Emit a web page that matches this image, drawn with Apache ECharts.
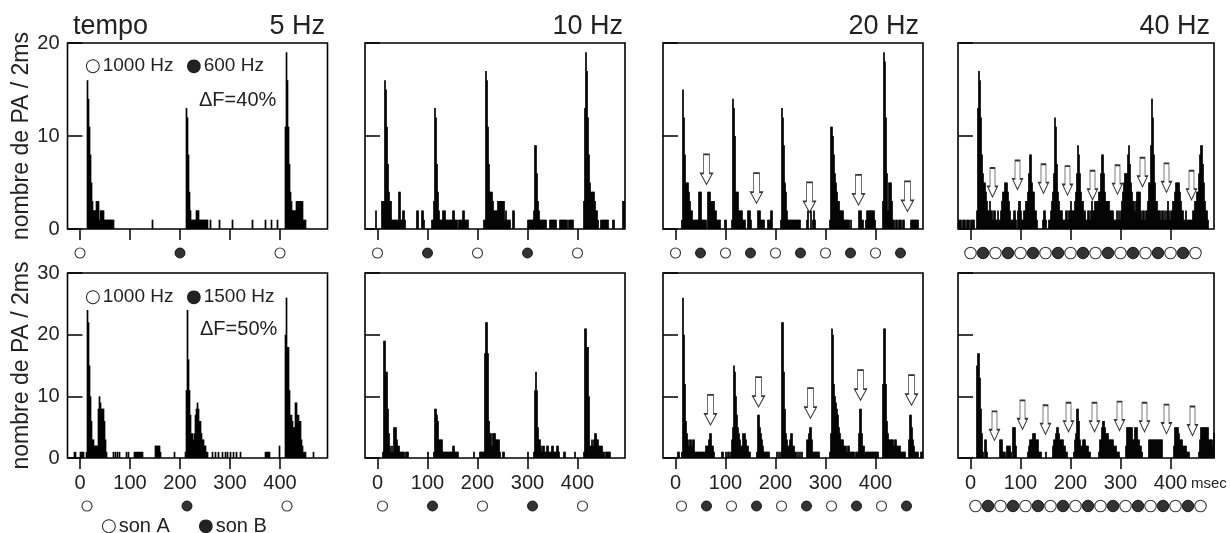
<!DOCTYPE html>
<html>
<head>
<meta charset="utf-8">
<script src="https://cdn.jsdelivr.net/npm/echarts@6.0.0/dist/echarts.min.js"></script>
<style>
html,body{margin:0;padding:0;background:#fff;}
#chart{width:1231px;height:533px;}
</style>
</head>
<body>
<div id="chart"></div>
<script>
// ---------- DATA ----------
// Histogram segments: [start of first 2-ms bin (ms), counts of consecutive 2-ms bins]
const hist_r1p1 = [
  [14, [16,14,11,8,5,3,2,2,2,3,3,3,1,2,2,2,2,1,1,1,1,1,1,1,1,1,1]],
  [144, [1]],
  [212, [13,12,8,4,2,1,1,1,1,1,2,2,2,1,1,1,1,1,1,1,1,1]],
  [260, [1]], [278, [1]], [304, [1]], [344, [1]], [370, [1]], [382, [1]], [394, [1]],
  [410, [11,19,16,11,7,4,3,2,2,2,2,3,3,3,3,3,3,3,1,1,1]]
];
const hist_r1p2 = [
  [-4, [2]],
  [8, [3,3,3,16,15,11,7,4,3,3,1,1,1,1,1,1,1,4,4,1,1,2,2,1]],
  [78, [2,2]], [88, [2,2,1]],
  [108, [1,1,3,13,12,7,4,2,1,1,1,2,2,2,1,1,1,1,1,1,1,2,2,1,1,1,0,1,1,1,1,2,2,1,1,1,1]],
  [212, [1,1,17,16,11,7,4,4,4,3,2,2,2,2,3,3,3,3,3,3,3,1,2,1,1,1,1,0,0,2,2]],
  [300, [1,1,1,1,1,1,2,9,9,6,3,2,1,1,1,1,1,1,1,0,0,0,1,1,1,1,1,1,1,0,0,0,1,1,1,1,1,1,1,1,0,1,1,1,1,1]],
  [412, [3,13,19,17,12,8,5,4,4,4,4,3,2,2,1,0,0,1,1,1,1,1,1,1,1,0,0,0,0,1,1]],
  [490, [3,3]]
];
const hist_r1p3 = [
  [12, [1,15,12,8,5,5,5,4,3,2,2,1,1,1,1,1,1,4,4,4,1,1,1,1,1,0,4,4,4,3,3,3,3,2,2,1,1,1,1]],
  [98, [1,1]],
  [112, [1,14,13,10,4,4,4,2,2,2,2,1,1,1,0,0,2,2,2,1]],
  [164, [2,2,2,1,1,1,1,0,0,0,1,1,1,2,2]],
  [210, [1,13,12,9,5,4,2,1,1,1,1,1,1,1,1,1,1,1,1,1]],
  [262, [1,2,0,0,2,0,1,2,1]],
  [308, [1,11,11,10,8,6,5,4,3,3,2,2,2,2,1,1,1,1,1,1,0,1]],
  [366, [2,2,2,1,1,0,0,1,2,2,2,2,2,2,2,2,1]],
  [414, [3,19,18,12,6,2,5,5,5,3,1,1,0,1,1,0,1,1,1,0,1,1]],
  [470, [1,1,1,1,1,1,1,1]]
];
const hist_r1p4 = [
  [-24, [1,1,1,0,1,1,1,0,1,1,1,0,1,1,1,1]],
  [12, [2,13,17,16,12,8,6,5,5,4, 3,2,2,3,2,2,1,2,2,1, 1,2,1,1,2,3,4,4,5,5, 5,4,3,2,1,1,1,2,2,1, 0,2,3,3,2,1,1,2,2,3, 3,4,6,8,8,5,4,4,2,2, 1]],
  [144, [1,2,2,1,0,0,1,1,2,3, 4,6,12,11,7,4,3,2,2,2, 1,1,1,2,2,1,2,2,3,2, 2,2,3,4,6,9,8,6,4,3, 3,2,2,1]],
  [232, [1,2,2,1,2,3,2,2,3,3, 3,3,4,4,6,8,8,6,4,3, 3,3,3,2,2,2,2,1,1,1, 2,1,2,1,2,3,4,5,6,6,
         6,8,9,7,5,4,3,3,2,3, 4,4,4,4,2,1,2,2,1,2, 2,3,5,5,9,14,12,8,5,3, 3,2,2,2,1,2,2,1,2,1,
         2,3,2,1,2,2,3,3,4,5, 5,5,5,4,3,2,2,1,1,2, 1,1,1,1,1,1,2,2,3,3, 4,4,6,8,9,9,7,5,3,2, 2,1]]
];
const hist_r2p1 = [
  [-12, [1,1]], [0, [1,1,1,1]],
  [12, [1,24,22,15,10,6,3,3,2,2,2,2,8,10,9,8,8,8,6,3,1]],
  [66, [1]], [70, [1]], [74, [1]], [78, [1]], [92, [1]], [96, [1]],
  [108, [1,1,1,1,1,1,1,1,1]],
  [150, [2,2,2,2,2,1]],
  [188, [1]],
  [210, [1,11,24,16,11,7,4,4,3,4,7,8,9,8,6,6,4,3,3,2,2,1,1]],
  [264, [1]], [270, [1]], [276, [1]], [284, [1]], [290, [1]], [294, [1]], [300, [1]], [306, [1]], [312, [1]], [320, [1]],
  [370, [1,1,1,1,1]],
  [398, [2]],
  [410, [20,26,18,18,11,7,7,6,5,5,9,9,7,7,6,6,3,2,1,1,1]],
  [466, [1]]
];
const hist_r2p2 = [
  [10, [1,19,19,14,14,8,4,2,1,2,1,5,5,5,3,2,2,1,1,1,1,1,0,1,1,1]],
  [100, [1]],
  [112, [1,8,8,7,6,3,3,3,3,1,1,1,1,1,1,1,1,1,1,2,2,1,1,1,1]],
  [192, [1]], [204, [1,1,1,1]],
  [212, [1,17,22,22,17,6,4,4,2,4,4,4,3,3,3,3,1,0,0,1,1]],
  [300, [1]],
  [312, [1,11,14,11,5,3,3,2,1,2,2,1,1,2,2,1,1,1,2,2,1,1,1,2,2,1]],
  [372, [1,1]], [394, [1]],
  [412, [1,21,21,18,18,10,2,2,3,2,3,4,4,3,3,2,2,2,2,1,1,0,1,1,1,1,1]]
];
const hist_r2p3 = [
  [4, [1,1]],
  [12, [1,26,20,12,6,4,3,2,3,3,2,3,3,1,1,1,1,1,1,1,1,1,1,1,2,2,2,3,4,4,2,2,1]],
  [92, [1,1]], [100, [1]], [104, [1,1]],
  [110, [1,3,5,15,14,10,7,5,4,3,2,2,4,4,4,3,2,2,1,1]],
  [162, [1,7,7,5,4,3,2,1,1,1,1,1,1]],
  [202, [1]], [206, [1]],
  [210, [1,22,22,14,8,4,3,2,2,3,4,4,2,2,1,1]],
  [244, [1]], [248, [1]], [252, [1]],
  [262, [3,3,4,5,5,3,1,1,1,1,1,1,1]],
  [308, [1,4,21,20,12,10,9,8,7,5, 4,3,3,3,2,2,2,1,2,2, 1,1,1,1,1,0,1,1,1,4, 8,8,4,2,2,1,1,1,1,1, 1,1,1,1,1,1,1,1,1]],
  [414, [12,21,21,12,6,4,3,3,3,3,3,2,3,3,2,2,2,2,1,1,1,1,1]],
  [466, [3,7,7,5,3,2,1,1,1,1,0,0,1,1]]
];
const hist_r2p4 = [
  [12, [15,17,17,13,8,4,1,0,3,3,1]],
  [58, [3,3,3,1,1,1,0,2,2,2,2,1,0,5,5,5,2]],
  [114, [1,2,3,3,3,4,4,4,3,3,3,1,1,1]],
  [150, [1]],
  [164, [2,3,3,4,5,5,4,3,3,3,3,2,2,1,1]],
  [206, [1,3,4,8,8,6,3,2,2,3,3,3,2,2,2,1,1]],
  [256, [1,3,3,5,6,6,5,4,4,4,3,3,3,3,3,2,2,2,1,1,1]],
  [310, [2,5,5,5,5,5,5,3,3,5,5,5,3,3,2,2,1]],
  [356, [3,3,3,3,3,3,3,3,3,3,3,3,3,3]],
  [406, [2,5,5,5,5,4,3,3,3,2,2,2,2,1,1,1]],
  [456, [1,3,5,5,5,5,5,5,5,5,3,3,3,3,2,4]]
];

// Tone onsets (ms): son A (open circles) and son B (filled circles)
const sonA_r1p1 = [0, 400];                 const sonB_r1p1 = [200];
const sonA_r1p2 = [0, 200, 400];            const sonB_r1p2 = [100, 300];
const sonA_r1p3 = [0, 100, 200, 300, 400];  const sonB_r1p3 = [50, 150, 250, 350, 450];
const sonA_r1p4 = [0, 50, 100, 150, 200, 250, 300, 350, 400, 450];
const sonB_r1p4 = [25, 75, 125, 175, 225, 275, 325, 375, 425];
const sonA_r2p1 = [14, 414];                const sonB_r2p1 = [214];
const sonA_r2p2 = [10, 210, 410];           const sonB_r2p2 = [110, 310];
const sonA_r2p3 = [12, 112, 212, 312, 412]; const sonB_r2p3 = [62, 162, 262, 362, 462];
const sonA_r2p4 = [10, 60, 110, 160, 210, 260, 310, 360, 410, 460];
const sonB_r2p4 = [35, 85, 135, 185, 235, 285, 335, 385, 435];

// Arrows (ms, count level of arrow centre)
const arrows_r1p3 = [[62,6.4],[162,4.4],[268,3.4],[366,4.2],[464,3.5]];
const arrows_r1p4 = [[44,5.0],[94,5.8],[146,5.4],[194,5.2],[244,4.7],[294,5.3],[344,6.1],[392,5.5],[442,4.7]];
const arrows_r2p3 = [[70,7.8],[166,10.7],[270,8.9],[370,11.8],[472,11.0]];
const arrows_r2p4 = [[48,5.2],[104,7.0],[150,6.2],[196,6.6],[248,6.6],[298,6.8],[348,6.6],[392,6.3],[444,6.0]];

// Labels
const tempoLabels = ['5 Hz', '10 Hz', '20 Hz', '40 Hz'];
const xTickValues = [0, 100, 200, 300, 400];
const yMaxByRow = [20, 30];
const yAxisTitle = 'nombre de PA / 2ms';

// ---------- LAYOUT ----------
const FONT = '"Liberation Sans", Arial, Helvetica, sans-serif';
const SYMFONT = '"DejaVu Sans", sans-serif';
const colLeft = [67.5, 365, 663, 958];
const colWidth = [260, 260, 260, 256];
const colMax = [495, 495, 495, 487];
const rowTop = [43, 273];
const rowHeight = [186, 185];
const toneTop = [245, 498];

const panels = [
  {r:0,c:0,h:hist_r1p1,A:sonA_r1p1,B:sonB_r1p1,ar:null},
  {r:0,c:1,h:hist_r1p2,A:sonA_r1p2,B:sonB_r1p2,ar:null},
  {r:0,c:2,h:hist_r1p3,A:sonA_r1p3,B:sonB_r1p3,ar:arrows_r1p3},
  {r:0,c:3,h:hist_r1p4,A:sonA_r1p4,B:sonB_r1p4,ar:arrows_r1p4},
  {r:1,c:0,h:hist_r2p1,A:sonA_r2p1,B:sonB_r2p1,ar:null},
  {r:1,c:1,h:hist_r2p2,A:sonA_r2p2,B:sonB_r2p2,ar:null},
  {r:1,c:2,h:hist_r2p3,A:sonA_r2p3,B:sonB_r2p3,ar:arrows_r2p3},
  {r:1,c:3,h:hist_r2p4,A:sonA_r2p4,B:sonB_r2p4,ar:arrows_r2p4}
];

const grid = [], xAxis = [], yAxis = [], series = [];
const ARROW = 'path://M3,0L9,0L9,19L12,19L6,30L0,19L3,19Z';

panels.forEach((p, i) => {
  grid.push({left: colLeft[p.c], top: rowTop[p.r], width: colWidth[p.c], height: rowHeight[p.r],
    show: true, borderColor: '#000', borderWidth: 1.6, backgroundColor: '#fff'});
  xAxis.push({type: 'value', gridIndex: i, min: -25, max: colMax[p.c],
    axisLine: {show: false, onZero: false},
    axisTick: {show: true, customValues: xTickValues, length: 11, inside: false, lineStyle: {color: '#000', width: 1.5}},
    axisLabel: {show: p.r === 1, customValues: xTickValues, fontSize: 20, color: '#222', fontFamily: FONT, margin: 15},
    splitLine: {show: false}});
  yAxis.push({type: 'value', gridIndex: i, min: 0, max: yMaxByRow[p.r], interval: 10,
    axisLine: {show: false, onZero: false},
    axisTick: {show: true, inside: true, length: 15, lineStyle: {color: '#000', width: 1.5}},
    axisLabel: {show: p.c === 0, fontSize: 20, color: '#222', fontFamily: FONT, margin: 8},
    splitLine: {show: false},
    name: p.c === 0 ? yAxisTitle : '', nameLocation: 'middle', nameGap: 32, nameRotate: 90,
    nameTextStyle: {fontSize: 23, color: '#222', fontFamily: FONT}});
  const bars = [];
  p.h.forEach(seg => seg[1].forEach((v, k) => { if (v > 0) bars.push([seg[0] + 2 * k + 1, v]); }));
  series.push({type: 'bar', xAxisIndex: i, yAxisIndex: i, data: bars, barWidth: 1.7,
    itemStyle: {color: '#000'}, silent: true, z: 2});
  if (p.ar) {
    const narrow = p.c === 3;
    series.push({type: 'scatter', xAxisIndex: i, yAxisIndex: i, data: p.ar, symbol: ARROW,
      symbolSize: narrow ? [10, 29] : [12, 30],
      itemStyle: {color: '#fff', borderColor: '#000', borderWidth: 1.1}, silent: true, z: 5});
  }
});

// tone marker strips
panels.forEach((p, i) => {
  const g = grid.length;
  grid.push({left: colLeft[p.c], top: toneTop[p.r], width: colWidth[p.c], height: 16, show: false});
  xAxis.push({type: 'value', gridIndex: g, min: -25, max: colMax[p.c], show: false});
  yAxis.push({type: 'value', gridIndex: g, min: 0, max: 1, show: false});
  const sz = p.c === 3 ? 11.5 : 10;
  series.push({name: 'son A', type: 'scatter', xAxisIndex: g, yAxisIndex: g,
    data: p.A.map(t => [t, 0.5]), symbol: 'circle', symbolSize: sz,
    itemStyle: {color: '#fff', borderColor: '#000', borderWidth: 1.1}, silent: true, z: 3});
  series.push({name: 'son B', type: 'scatter', xAxisIndex: g, yAxisIndex: g,
    data: p.B.map(t => [t, 0.5]), symbol: 'circle', symbolSize: sz,
    itemStyle: {color: '#000', borderColor: '#000', borderWidth: 1}, silent: true, z: 4});
});

function txt(x, y, s, size, align) {
  return {type: 'text', x: x, y: y, silent: true, z: 10,
    style: {text: s, font: size + 'px ' + FONT, fill: '#222',
      align: align || 'left', textAlign: align || 'left',
      verticalAlign: 'middle', textVerticalAlign: 'middle',
      rich: {
        c: {font: '18px ' + SYMFONT, fill: '#222', verticalAlign: 'middle', padding: [0, 2, 0, 0]},
        t: {font: size + 'px ' + FONT, fill: '#222', verticalAlign: 'middle'}
      }}};
}
const tempoRight = [325, 623, 919, 1210];
const graphic = [txt(73, 27, 'tempo', 27)];
tempoLabels.forEach((s, c) => graphic.push(txt(tempoRight[c], 27, s, 27, 'right')));
graphic.push(txt(85, 66, '{c|○}{t|1000 Hz}', 19), txt(186, 66, '{c|●}{t|600 Hz}', 19), txt(199, 100, 'ΔF=40%', 20));
graphic.push(txt(85, 297, '{c|○}{t|1000 Hz}', 19), txt(186, 297, '{c|●}{t|1500 Hz}', 19), txt(200, 329, 'ΔF=50%', 20));
graphic.push(txt(101, 526, '{c|○}{t|son A}', 20), txt(198, 526, '{c|●}{t|son B}', 20));
graphic.push(txt(1191, 484, 'msec', 15));

const chart = echarts.init(document.getElementById('chart'), null, {renderer: 'canvas'});
chart.setOption({
  backgroundColor: '#fff',
  animation: false,
  grid: grid, xAxis: xAxis, yAxis: yAxis, series: series, graphic: graphic
});
</script>
</body>
</html>
